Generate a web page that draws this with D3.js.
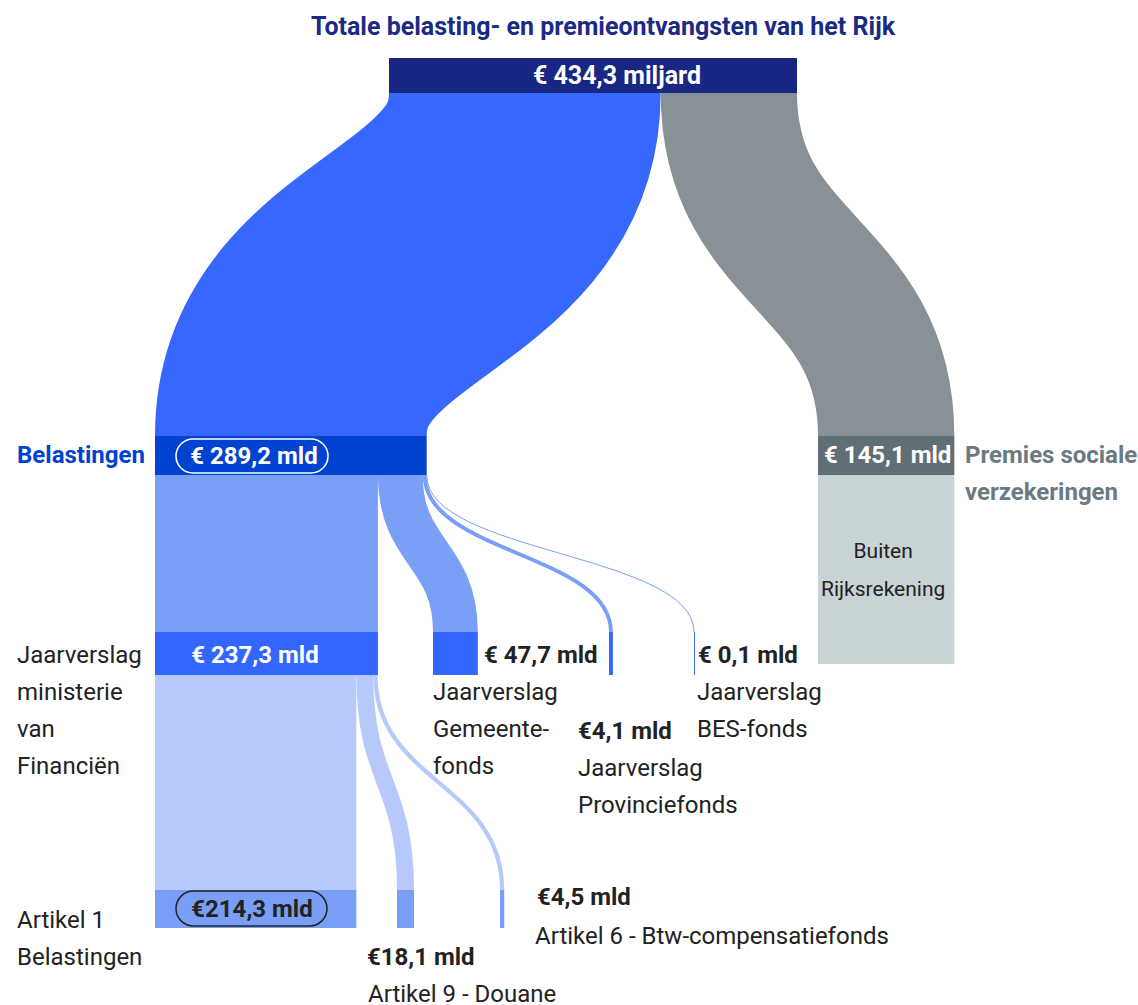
<!DOCTYPE html>
<html>
<head>
<meta charset="utf-8">
<script src="https://cdn.jsdelivr.net/npm/d3@7"></script>
<style>
  html, body { margin: 0; padding: 0; background: #ffffff; }
  svg { display: block; font-family: Roboto, "Noto Sans", sans-serif; }
</style>
</head>
<body>
<svg id="chart" width="1138" height="1005"></svg>
<script>
// ---------------- DATA ----------------
const title = "Totale belasting- en premieontvangsten van het Rijk";
const nodeIds = ["totaal", "belastingen", "premies", "ministerie", "gemeentefonds", "provinciefonds", "besfonds", "artikel1", "artikel9", "artikel6"];
const nodeValues = [434.3, 289.2, 145.1, 237.3, 47.7, 4.1, 0.1, 214.3, 18.1, 4.5];
const nodeValueLabels = ["€ 434,3 miljard", "€ 289,2 mld", "€ 145,1 mld", "€ 237,3 mld", "€ 47,7 mld", "€4,1 mld", "€ 0,1 mld", "€214,3 mld", "€18,1 mld", "€4,5 mld"];
const nodeNameLines = [
  [],
  ["Belastingen"],
  ["Premies sociale", "verzekeringen"],
  ["Jaarverslag", "ministerie", "van", "Financiën"],
  ["Jaarverslag", "Gemeente-", "fonds"],
  ["Jaarverslag", "Provinciefonds"],
  ["Jaarverslag", "BES-fonds"],
  ["Artikel 1", "Belastingen"],
  ["Artikel 9 - Douane"],
  ["Artikel 6 - Btw-compensatiefonds"]
];
const linkSources = ["totaal", "totaal", "belastingen", "belastingen", "belastingen", "belastingen", "ministerie", "ministerie", "ministerie"];
const linkTargets = ["belastingen", "premies", "ministerie", "gemeentefonds", "provinciefonds", "besfonds", "artikel1", "artikel9", "artikel6"];
const linkValues = [289.2, 145.1, 237.3, 47.7, 4.1, 0.1, 214.3, 18.1, 4.5];
const outsideLines = ["Buiten", "Rijksrekening"];

// ---------------- LAYOUT / STYLE ----------------
const levelOf = {totaal: 0, belastingen: 1, premies: 1, ministerie: 2, gemeentefonds: 2, provinciefonds: 2, besfonds: 2, artikel1: 3, artikel9: 3, artikel6: 3};
const levelTop = [58, 436, 632, 890];
const levelBottom = [93, 475, 675, 928];
const nodeLeft = {totaal: 389, belastingen: 155, premies: 818, ministerie: 155, gemeentefonds: 433, provinciefonds: 609, besfonds: 694, artikel1: 155, artikel9: 397, artikel6: 500};
const nodeColor = {totaal: "#172783", belastingen: "#0043d1", premies: "#606e75", ministerie: "#3366ff", gemeentefonds: "#3366ff", provinciefonds: "#3366ff", besfonds: "#3366ff", artikel1: "#799ef6", artikel9: "#799ef6", artikel6: "#799ef6"};
const linkColor = {totaal: null, belastingen: "#3668ff", premies: "#879196", ministerie: "#7a9ff6", gemeentefonds: "#7a9ff6", provinciefonds: "#7a9ff6", besfonds: "#7a9ff6", artikel1: "#b6c9fa", artikel9: "#b6c9fa", artikel6: "#b6c9fa"};

const svg = d3.select("#chart");
const W = d3.scaleLinear().domain([0, 434.3]).range([0, 408]);

const nodes = nodeIds.map((id, i) => {
  const lvl = levelOf[id];
  return {id, value: nodeValues[i], label: nodeValueLabels[i], lines: nodeNameLines[i],
    x0: nodeLeft[id], x1: nodeLeft[id] + W(nodeValues[i]), y0: levelTop[lvl], y1: levelBottom[lvl]};
});
const byId = Object.fromEntries(nodes.map(n => [n.id, n]));

// links: stacked from source left edge in order
const srcOffset = {};
const links = linkSources.map((s, i) => {
  const src = byId[s], tgt = byId[linkTargets[i]];
  const off = srcOffset[s] || 0;
  const w = W(linkValues[i]);
  srcOffset[s] = off + w;
  return {source: src, target: tgt, width: w,
    sx: src.x0 + off + w / 2, sy: src.y1, tx: tgt.x0 + w / 2, ty: tgt.y0, color: linkColor[tgt.id]};
});

const linkGen = d3.linkVertical().x(d => d[0]).y(d => d[1]);

// Buiten Rijksrekening block
const prem = byId["premies"];
svg.append("rect").attr("x", prem.x0).attr("y", prem.y1).attr("width", prem.x1 - prem.x0).attr("height", 664 - prem.y1).attr("fill", "#c8d3d5");
svg.append("g").selectAll("text").data(outsideLines).join("text")
  .attr("x", (prem.x0 + prem.x1) / 2 - 3).attr("y", (d, i) => 551 + i * 38).attr("dy", "0.35em")
  .attr("text-anchor", "middle").attr("font-size", 21).attr("fill", "#222").text(d => d);

svg.append("g").attr("fill", "none").selectAll("path").data(links).join("path")
  .attr("d", d => linkGen({source: [d.sx, d.sy], target: [d.tx, d.ty]}))
  .attr("stroke", d => d.color)
  .attr("stroke-width", d => Math.max(1, d.width));

svg.append("g").selectAll("rect").data(nodes).join("rect")
  .attr("x", d => d.x0).attr("y", d => d.y0)
  .attr("width", d => Math.max(1, d.x1 - d.x0)).attr("height", d => d.y1 - d.y0)
  .attr("fill", d => nodeColor[d.id]);

// ---------------- TEXT ----------------
svg.append("text").attr("x", 603).attr("y", 26).attr("dy", "0.35em").attr("text-anchor", "middle")
  .attr("font-size", 25).attr("font-weight", 700).attr("fill", "#1b2a83").text(title);

// value label placement
const valPos = {
  totaal: {x: 617, y: 75, anchor: "middle", fill: "#fff", size: 25},
  belastingen: {x: 254, y: 456, anchor: "middle", fill: "#fff", pill: {x: 176, y: 439, w: 152, h: 34, stroke: "#fff"}},
  premies: {x: 824, y: 455, anchor: "start", fill: "#fff"},
  ministerie: {x: 255, y: 655, anchor: "middle", fill: "#fff"},
  gemeentefonds: {x: 484, y: 655, anchor: "start", fill: "#222"},
  provinciefonds: {x: 578, y: 731, anchor: "start", fill: "#222"},
  besfonds: {x: 698, y: 655, anchor: "start", fill: "#222"},
  artikel1: {x: 252, y: 909, anchor: "middle", fill: "#222", pill: {x: 176, y: 891, w: 151, h: 35, stroke: "#222"}},
  artikel9: {x: 367, y: 957, anchor: "start", fill: "#222"},
  artikel6: {x: 537, y: 897, anchor: "start", fill: "#222"}
};
const namePos = {
  belastingen: {x: 17, y: 455, bold: true, fill: "#0043d1"},
  premies: {x: 965, y: 455, bold: true, fill: "#6b7a81"},
  ministerie: {x: 17, y: 655, fill: "#222"},
  gemeentefonds: {x: 433, y: 692, fill: "#222"},
  provinciefonds: {x: 578, y: 768, fill: "#222"},
  besfonds: {x: 697, y: 692, fill: "#222"},
  artikel1: {x: 17, y: 920, fill: "#222"},
  artikel9: {x: 368, y: 994, fill: "#222"},
  artikel6: {x: 535, y: 936, fill: "#222"}
};
const lineH = 37;

nodes.forEach(n => {
  const p = valPos[n.id];
  if (p.pill) {
    svg.append("rect").attr("x", p.pill.x).attr("y", p.pill.y).attr("width", p.pill.w).attr("height", p.pill.h)
      .attr("rx", p.pill.h / 2).attr("fill", "none").attr("stroke", p.pill.stroke).attr("stroke-width", 1.5);
  }
  svg.append("text").attr("x", p.x).attr("y", p.y).attr("dy", "0.35em").attr("text-anchor", p.anchor)
    .attr("font-size", p.size || 24).attr("font-weight", 700).attr("fill", p.fill).text(n.label);
  const q = namePos[n.id];
  if (q) {
    svg.append("g").selectAll("text").data(n.lines).join("text")
      .attr("x", q.x).attr("y", (d, i) => q.y + i * lineH).attr("dy", "0.35em")
      .attr("font-size", 24).attr("font-weight", q.bold ? 700 : 400)
      .attr("fill", q.fill).text(d => d);
  }
});
</script>
</body>
</html>
